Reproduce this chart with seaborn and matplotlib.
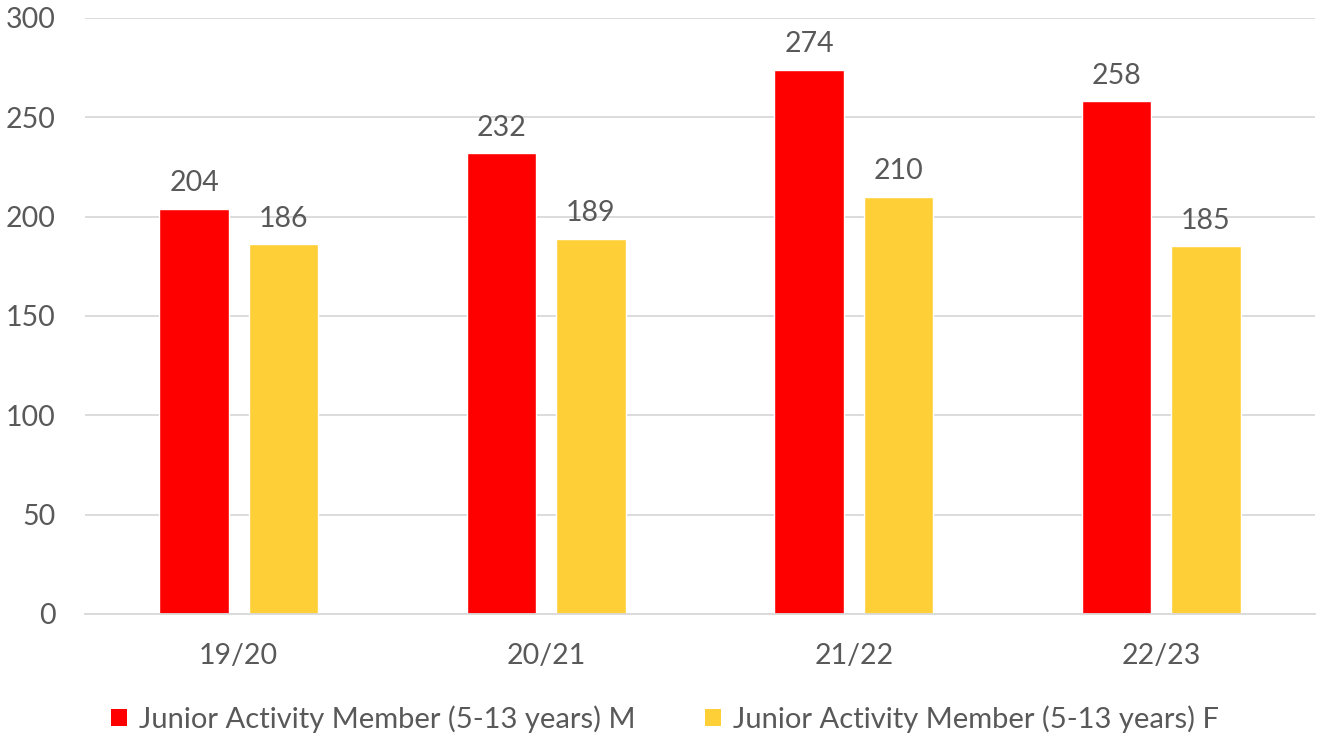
import matplotlib
matplotlib.use("Agg")
import matplotlib.pyplot as plt
import seaborn as sns
import pandas as pd

seasons = ["19/20", "20/21", "21/22", "22/23"]
series_names = ["Junior Activity Member (5-13 years) M", "Junior Activity Member (5-13 years) F"]
male = [204, 232, 274, 258]
female = [186, 189, 210, 185]
colors = ["#FF0000", "#FFCF37"]

df = pd.DataFrame({
    "season": seasons * 2,
    "series": [series_names[0]] * 4 + [series_names[1]] * 4,
    "value": male + female,
})

sns.set_theme(style="white")
plt.rcParams["font.family"] = ["Lato", "DejaVu Sans"]
TXT = "#595959"
FS = 20.5

fig = plt.figure(figsize=(13.22, 7.37), dpi=100)
ax = fig.add_axes([85 / 1322, 1 - 614 / 737, 1230 / 1322, 596 / 737])

sns.barplot(data=df, x="season", y="value", hue="series", palette=colors,
            width=0.58, gap=0.22, ax=ax, legend=False, saturation=1)

ax.set_ylim(0, 300)
ax.set_xlim(-0.5, 3.5)
ax.set_yticks(range(0, 301, 50))
ax.yaxis.grid(True, color="#D9D9D9", linewidth=1.3)
ax.set_axisbelow(True)
for s in ["top", "right", "left"]:
    ax.spines[s].set_visible(False)
ax.spines["bottom"].set_color("#D9D9D9")
ax.spines["bottom"].set_linewidth(1.3)
ax.tick_params(axis="both", length=0, labelsize=FS, labelcolor=TXT)
ax.tick_params(axis="x", pad=21)
ax.tick_params(axis="y", pad=21)
ax.set_xlabel("")
ax.set_ylabel("")

for cont in ax.containers:
    ax.bar_label(cont, fmt="%d", padding=9, fontsize=FS, color=TXT)

from matplotlib.patches import Patch
handles = [Patch(facecolor=c, edgecolor="none") for c in colors]
fig.legend(handles, series_names, loc="lower center", bbox_to_anchor=(0.503, -0.03),
           ncol=2, frameon=False, fontsize=21, labelcolor=TXT,
           handlelength=0.55, handleheight=0.55, handletextpad=0.4, columnspacing=2.4)

fig.savefig("out.png", dpi=100)
